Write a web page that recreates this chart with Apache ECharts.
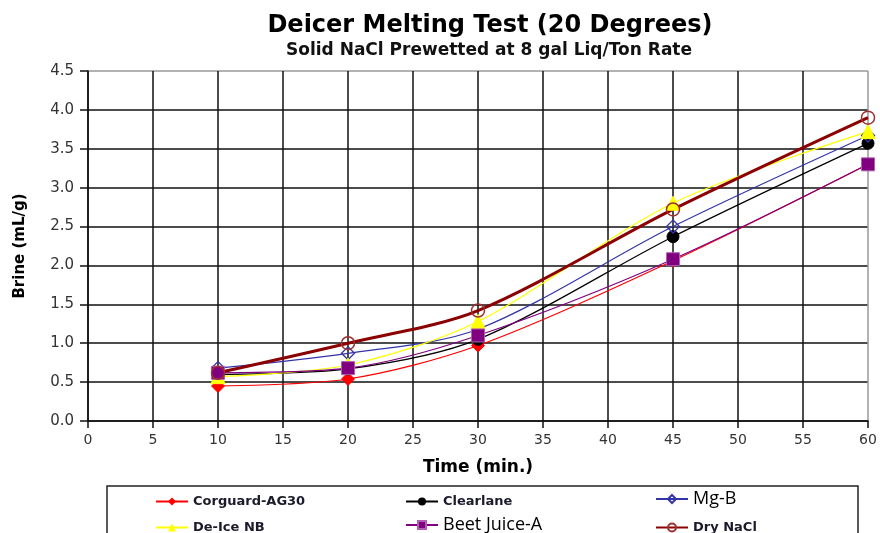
<!DOCTYPE html>
<html>
<head>
<meta charset="utf-8">
<script src="https://cdn.jsdelivr.net/npm/echarts@6/dist/echarts.min.js"></script>
<style>
  * { margin: 0; padding: 0; }
  html, body { background: #fff; }
  #chart { width: 880px; height: 533px; }
</style>
</head>
<body>
<div id="chart"></div>
<script>
// time points (min.)
const times = [10, 20, 30, 45, 60];

// brine (mL/g) per deicer
const corguard = [0.45, 0.54, 0.97, 2.06, 3.30];
const clearlane = [0.60, 0.67, 1.05, 2.37, 3.57];
const mgB = [0.68, 0.87, 1.18, 2.50, 3.67];
const deIce = [0.57, 0.72, 1.28, 2.80, 3.72];
const beetJuice = [0.62, 0.68, 1.10, 2.08, 3.30];
const dryNaCl = [0.62, 1.00, 1.42, 2.72, 3.90];

const toPts = arr => times.map((t, i) => [t, arr[i]]);

const chart = echarts.init(document.getElementById('chart'));

const wide = '"DejaVu Sans", sans-serif';
const calibri = '"Open Sans", "Noto Sans", sans-serif';

// splitLine colours: last line (top / right edge) is lighter
const yGrid = Array(9).fill('#111').concat(['#999']);
const xGrid = Array(12).fill('#111').concat(['#999']);

const mkSeries = (name, data, color, symbol, size, extra) => Object.assign({
  name,
  type: 'line',
  smooth: 0.3,
  data: toPts(data),
  symbol,
  symbolSize: size,
  lineStyle: { color, width: 1.2 },
  itemStyle: { color, borderColor: color },
  z: 3
}, extra || {});

const legendAt = (name, left, top, big) => ({
  data: [name],
  left, top,
  itemWidth: 32, itemHeight: 10, itemGap: 3,
  textStyle: big
    ? { fontFamily: calibri, fontSize: 18, color: '#000' }
    : { fontFamily: wide, fontSize: 13, fontWeight: 'bold', color: '#1a1a2a' }
});

chart.setOption({
  animation: false,
  title: [
    {
      text: 'Deicer Melting Test (20 Degrees)',
      left: 485, top: 9, textAlign: 'center',
      textStyle: { fontFamily: wide, fontSize: 24, fontWeight: 'bold', color: '#000' }
    },
    {
      text: 'Solid NaCl Prewetted at 8 gal Liq/Ton Rate',
      left: 484, top: 37, textAlign: 'center',
      textStyle: { fontFamily: wide, fontSize: 17, fontWeight: 'bold', color: '#111' }
    }
  ],
  grid: { left: 88, right: 12, top: 71, bottom: 112 },
  xAxis: {
    type: 'value',
    min: 0, max: 60, interval: 5,
    name: 'Time (min.)',
    nameLocation: 'middle',
    nameGap: 38,
    nameTextStyle: { fontFamily: wide, fontSize: 17, fontWeight: 'bold', color: '#000' },
    axisLine: { lineStyle: { color: '#111', width: 1.5 } },
    axisTick: { show: true, length: 7, lineStyle: { color: '#111', width: 1.5 } },
    axisLabel: { fontFamily: wide, fontSize: 14, color: '#333', margin: 12 },
    splitLine: { show: true, lineStyle: { color: xGrid, width: 1.5 } }
  },
  yAxis: {
    type: 'value',
    min: 0, max: 4.5, interval: 0.5,
    name: 'Brine (mL/g)',
    nameLocation: 'middle',
    nameGap: 60,
    nameTextStyle: { fontFamily: wide, fontSize: 15, fontWeight: 'bold', color: '#000' },
    axisLine: { show: true, lineStyle: { color: '#111', width: 1.5 } },
    axisTick: { show: true, length: 8, lineStyle: { color: '#111', width: 1.5 } },
    axisLabel: {
      fontFamily: wide, fontSize: 15, color: '#333', margin: 14,
      formatter: v => v.toFixed(1)
    },
    splitLine: { show: true, lineStyle: { color: yGrid, width: 1.5 } }
  },
  legend: [
    legendAt('Corguard-AG30', 150, 490, false),
    legendAt('Clearlane', 400, 490, false),
    legendAt('Mg-B', 650, 485, true),
    legendAt('De-Ice NB', 150, 516, false),
    legendAt('Beet Juice-A', 400, 511, true),
    legendAt('Dry NaCl', 650, 516, false)
  ],
  graphic: [
    {
      type: 'rect',
      shape: { x: 107, y: 486, width: 751, height: 60 },
      style: { fill: 'none', stroke: '#222', lineWidth: 1.5 },
      silent: true
    }
  ],
  series: [
    mkSeries('Corguard-AG30', corguard, '#ff0000', 'diamond', 13),
    mkSeries('Clearlane', clearlane, '#000000', 'circle', 12),
    mkSeries('Mg-B', mgB, '#3333aa', 'diamond', 13, {
      itemStyle: { color: 'rgba(255,255,255,0)', borderColor: '#3333aa', borderWidth: 1.3 }
    }),
    mkSeries('De-Ice NB', deIce, '#ffff00', 'triangle', 14),
    mkSeries('Beet Juice-A', beetJuice, '#800080', 'rect', 13, {
      itemStyle: { color: '#800080', borderColor: '#b060b0', borderWidth: 1 }
    }),
    mkSeries('Dry NaCl', dryNaCl, '#8b0000', 'circle', 13, {
      lineStyle: { color: '#8b0000', width: 3 },
      itemStyle: { color: 'rgba(255,255,255,0)', borderColor: '#a03030', borderWidth: 1.5 }
    })
  ]
});
</script>
</body>
</html>
